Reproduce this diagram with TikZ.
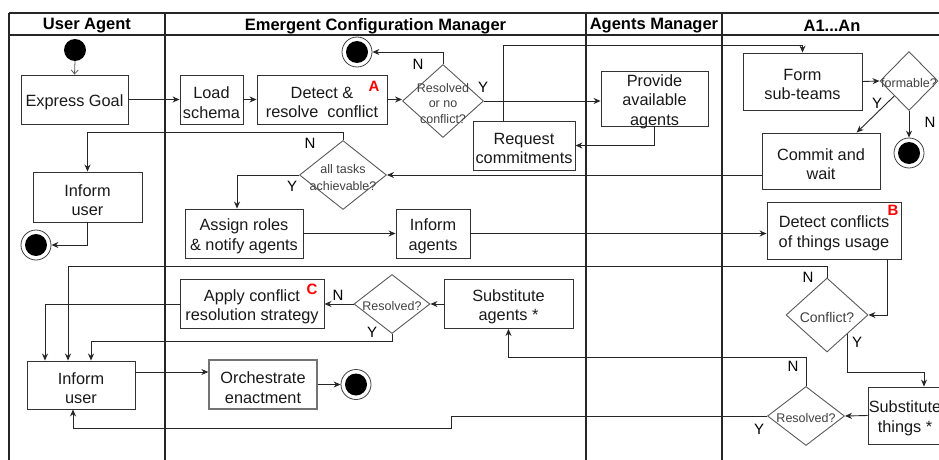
\documentclass[tikz,border=0pt]{standalone}
\usepackage{fontspec}
\setmainfont{Liberation Sans}
\usetikzlibrary{shapes.geometric,arrows.meta,calc}
\begin{document}
\begin{tikzpicture}[x=1pt,y=-1pt,
  box/.style={draw=black!80,line width=0.9pt,rectangle,inner sep=0pt},
  bt/.style={align=center,font=\fontsize{16.3}{19.5}\selectfont,text=black!90,inner sep=0pt,yshift=-3pt},
  dia/.style={draw=black!65,line width=0.9pt,diamond,inner sep=0pt},
  dtext/.style={align=center,font=\fontsize{12.5}{15.5}\selectfont,text=black!75,inner sep=0pt,yshift=-2.5pt},
  arr/.style={draw=black!85,line width=0.9pt,-{Stealth[length=7pt,width=6pt]}},
  oarr/.style={draw=black!65,line width=0.8pt,-{Straight Barb[length=4pt,width=7pt]}},
  lab/.style={font=\fontsize{15}{15}\selectfont,inner sep=0pt},
  redl/.style={font=\bfseries\fontsize{15}{15}\selectfont,text=red,inner sep=0pt},
  hdr/.style={font=\bfseries\fontsize{16.5}{18}\selectfont,inner sep=0pt},
  lane/.style={line width=2pt,draw=black!85},
  endc/.style={circle,draw=black!75,line width=0.8pt,fill=white,minimum size=30pt,inner sep=0pt,
    path picture={\fill[black] (path picture bounding box.center) circle (11pt);}},
  startc/.style={circle,fill=black,minimum size=22pt,inner sep=0pt}
]
\useasboundingbox (0,0) rectangle (939,460);
% swimlanes
\draw[lane] (9,13) -- (945,13);
\draw[lane] (9,35) -- (945,35);
\draw[lane] (9,13) -- (9,462);
\draw[lane] (165,13) -- (165,462);
\draw[lane] (586,13) -- (586,462);
\draw[lane] (722,13) -- (722,462);
\node[hdr] (h1) at (87,26) {User Agent};
\node[hdr] (h2) at (375.5,26) {Emergent Configuration Manager};
\node[hdr] (h3) at (654,26) {Agents Manager};
\node[hdr] (h4) at (832,26) {A1...An};

% nodes
\node[startc] (init) at (75,50) {};
\node[box,minimum width=107pt,minimum height=49pt,label={[bt]center:{Express Goal}}] (eg) at (74.5,99.5) {};
\node[box,minimum width=63pt,minimum height=49pt,label={[bt]center:{Load\\schema}}] (ls) at (211.5,99.5) {};
\node[box,minimum width=130pt,minimum height=49pt,label={[bt]center:{Detect \&\\resolve\ \ conflict}}] (dr) at (322,99.5) {};
\node[redl] (la) at (374,86) {A};
\node[dia,minimum width=81pt,minimum height=73pt] (d1) at (443,101) {};
\node[dtext] (t1) at (d1) {Resolved\\or no\\conflict?};
\node[endc] (e1) at (357,52) {};
\node[box,minimum width=107pt,minimum height=55pt,label={[bt]center:{Provide\\available\\agents}}] (pa) at (654.5,98.5) {};
\node[box,minimum width=102pt,minimum height=49pt,label={[bt]center:{Request\\commitments}}] (rc) at (524,145.5) {};
\node[box,minimum width=119pt,minimum height=57pt,label={[bt]center:{Form\\sub-teams}}] (fs) at (802.5,81.5) {};
\node[dia,minimum width=58pt,minimum height=59pt] (d2) at (909,81) {};
\node[dtext] (t2) at (d2) {formable?};
\node[endc] (e2) at (909,153) {};
\node[box,minimum width=118pt,minimum height=56pt,label={[bt]center:{Commit and\\wait}}] (cw) at (821,161) {};
\node[dia,minimum width=87pt,minimum height=69pt] (d3) at (343,175) {};
\node[dtext,font=\fontsize{12.5}{17.5}\selectfont] (t3) at (d3) {all tasks\\achievable?};
\node[box,minimum width=109pt,minimum height=50pt,label={[bt]center:{Inform\\user}}] (iu1) at (87.5,197) {};
\node[endc] (e3) at (36,245) {};
\node[box,minimum width=118pt,minimum height=49pt,label={[bt]center:{Assign roles\\\& notify agents}}] (ar) at (244,233.5) {};
\node[box,minimum width=74pt,minimum height=49pt,label={[bt]center:{Inform\\agents}}] (ia) at (433,233.5) {};
\node[box,minimum width=134pt,minimum height=57pt,label={[bt]center:{Detect conflicts\\of things usage}}] (dc) at (834,230.5) {};
\node[redl] (lb) at (893,210) {B};
\node[dia,minimum width=82pt,minimum height=74pt] (d4) at (827,315) {};
\node[dtext,font=\fontsize{14}{16}\selectfont] (t4) at (d4) {Conflict?};
\node[box,minimum width=108pt,minimum height=48pt,label={[bt]center:{Inform\\user}}] (iu2) at (81,385) {};
\node[box,minimum width=74pt,minimum height=57pt,label={[bt]center:{Substitute\\things *}}] (st) at (905,415.5) {};
\node[dia,minimum width=77pt,minimum height=59pt] (d5) at (806,416) {};
\node[dtext] (t5) at (d5) {Resolved?};
\node[box,minimum width=129pt,minimum height=49pt,label={[bt]center:{Substitute\\agents *}}] (sa) at (508.5,304) {};
\node[dia,minimum width=76pt,minimum height=59pt] (d6) at (392,304) {};
\node[dtext] (t6) at (d6) {Resolved?};
\node[box,minimum width=144pt,minimum height=49pt,label={[bt]center:{Apply conflict\\resolution strategy}}] (ac) at (252,304) {};
\node[redl] (lc) at (312,289) {C};
\node[box,draw=black!55,line width=1.3pt,minimum width=108pt,minimum height=49pt,label={[bt]center:{Orchestrate\\enactment}}] (oe) at (263,384.5) {};
\node[endc] (e4) at (356,384.5) {};

% labels
\node[lab] (n1) at (418,64) {N};
\node[lab] (y1) at (483,87) {Y};
\node[lab] (y2) at (877,103) {Y};
\node[lab] (n2) at (930,122) {N};
\node[lab] (n3) at (310,143) {N};
\node[lab] (y3) at (292,186) {Y};
\node[lab] (n4) at (808,277) {N};
\node[lab] (y4) at (857,342) {Y};
\node[lab] (n5) at (793,366) {N};
\node[lab] (y5) at (759,429) {Y};
\node[lab] (n6) at (338,295) {N};
\node[lab] (y6) at (372,332) {Y};

% coordinates
\coordinate (k8) at (503,45);
\coordinate (k15) at (237,0);
\coordinate (k18) at (887,0);
\coordinate (k19) at (68,266);
\coordinate (k20) at (924,372);
\coordinate (k22) at (806,357);
\coordinate (k23a) at (451,416);
\coordinate (k23b) at (73,428);
\coordinate (k26) at (45,0);
\coordinate (k27) at (91,341);
\coordinate (k28) at (0,372);

% connectors
\draw[oarr] (init.south) -- (eg.north);
\draw[arr] (eg.east) -- (ls.west);
\draw[arr] (ls.east) -- (dr.west);
\draw[arr] (dr.east) -- (dr.east -| d1.west);
\draw[arr] (d1.north) |- (e1.east);
\draw[arr] (d1.east) -- (d1.east -| pa.west);
\draw[arr] (pa.south) |- (rc.east);
\draw[arr] (k8 |- rc.north) -- (k8) -| (fs.north);
\draw[arr] (fs.east) -- (d2.west);
\draw[arr] (d2.south) -- (e2.north);
\draw[arr] (d2.south west) -- ($(cw.north)!0.6!(cw.north east)$);
\draw[arr] (cw.west |- d3.east) -- (d3.east);
\draw[arr] (d3.north) -- ++(0,-7.5) -| (iu1.north);
\draw[arr] (iu1.south) |- (e3.east);
\draw[arr] (d3.west) -| (k15 |- ar.north);
\draw[arr] (ar.east) -- (ia.west);
\draw[arr] (ia.east) -- (ia.east -| dc.west);
\draw[arr] (k18 |- dc.south) |- (d4.east);
\draw[arr] (d4.north) |- (k19) -- (k19 |- iu2.north);
\draw[arr] (d4.south east) |- (k20) -- (k20 |- st.north);
\draw[arr] (st.west) -- (d5.east);
\draw[arr] (d5.north) -- (k22) -| (sa.south);
\draw[arr] (d5.west) -- (k23a) |- (k23b) -- (k23b |- iu2.south);
\draw[arr] (sa.west) -- (d6.east);
\draw[arr] (d6.west) -- (ac.east);
\draw[arr] (ac.west) -| (k26 |- iu2.north);
\draw[arr] (d6.south) |- (k27) -- (k27 |- iu2.north);
\draw[arr] (k28 -| iu2.east) -- (k28 -| oe.west);
\draw[arr] (oe.east) -- (e4.west);
\end{tikzpicture}
\end{document}
